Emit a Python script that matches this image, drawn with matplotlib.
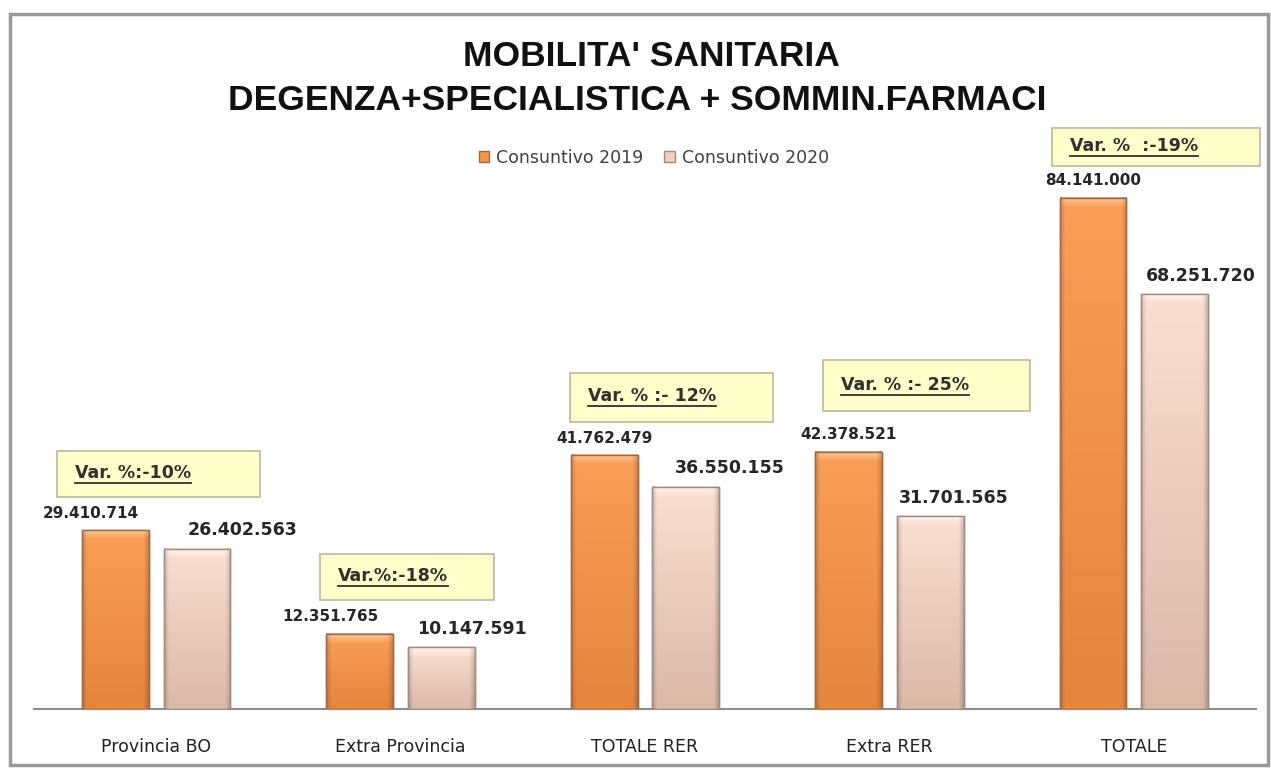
import matplotlib
matplotlib.use("Agg")
import matplotlib.pyplot as plt
import matplotlib.patches as patches
import numpy as np
from matplotlib.colors import to_rgb

categories = ["Provincia BO", "Extra Provincia", "TOTALE RER", "Extra RER", "TOTALE"]
cons_2019 = [29410714, 12351765, 41762479, 42378521, 84141000]
cons_2020 = [26402563, 10147591, 36550155, 31701565, 68251720]
labels_2019 = ["29.410.714", "12.351.765", "41.762.479", "42.378.521", "84.141.000"]
labels_2020 = ["26.402.563", "10.147.591", "36.550.155", "31.701.565", "68.251.720"]
var_labels = ["Var. %:-10%", "Var.%:-18%", "Var. % :- 12%", "Var. % :- 25%", "Var. %  :-19%"]
series_names = ["Consuntivo 2019", "Consuntivo 2020"]

W, H = 1271, 769
fig = plt.figure(figsize=(W / 100, H / 100), dpi=100)
fig.patch.set_facecolor("white")

def px(x, y):
    # pixel (from top-left) -> figure fraction
    return x / W, 1 - y / H

# outer frame
fig.add_artist(patches.Rectangle(px(10, 765), 1258 / W, 751 / H, transform=fig.transFigure,
                                 facecolor="none", edgecolor="#9a9a9a", lw=2.5))

ax = fig.add_axes([34 / W, 60 / H, 1222 / W, 579 / H])
for s in ["top", "right", "left"]:
    ax.spines[s].set_visible(False)
ax.spines["bottom"].set_color("#8c8c8c")
ax.spines["bottom"].set_linewidth(1.5)
ax.set_yticks([])
x = np.arange(len(categories))
ax.set_xticks(x)
ax.set_xticklabels(categories, fontsize=12.5, color="#202020", family="DejaVu Sans")
ax.tick_params(axis="x", length=0, pad=21)

ymax = 95.3e6
bw = 0.273
off = 0.167
b1 = ax.bar(x - off, cons_2019, bw, color="#F7964A", edgecolor="#9b6a4a", lw=1,
            label=series_names[0], zorder=2)
b2 = ax.bar(x + off, cons_2020, bw, color="#F2D0BE", edgecolor="#9f8a80", lw=1,
            label=series_names[1], zorder=2)

def bar_image(top, bottom, n=200, m=64):
    t = np.array(to_rgb(top)); b = np.array(to_rgb(bottom))
    v = np.linspace(0, 1, n)[:, None, None]
    img = t * (1 - v) + b * v
    img = np.repeat(img, m, axis=1)
    hx = np.linspace(-1, 1, m)
    shade = 1 - 0.18 * np.clip((np.abs(hx) - 0.85) / 0.15, 0, 1)
    return np.clip(img * shade[None, :, None], 0, 1)

styles = [(b1, "#FA9F58", "#E5853F", "#FCC690"), (b2, "#FADFD0", "#DCB8A7", "#FFF3EC")]
bevel = 9 * ymax / 579
for bars, top, bottom, light in styles:
    img = bar_image(top, bottom)
    for p in bars:
        x0, w, h = p.get_x(), p.get_width(), p.get_height()
        ax.imshow(img, aspect="auto", extent=[x0, x0 + w, 0, h], zorder=3)
        ax.imshow(bar_image(light, top, 20), aspect="auto",
                  extent=[x0, x0 + w, h - bevel, h], zorder=3.5)
        ax.add_patch(patches.FancyBboxPatch((x0, 0), w, h, boxstyle="square,pad=0",
                                            facecolor="none", edgecolor=p.get_edgecolor(),
                                            lw=1, zorder=4))
ax.set_xlim(-0.5, 4.5)
ax.set_ylim(0, ymax)

# value labels
off_2019 = [-18, -21, 0, 0, 0]
off_2020 = [33, 22, 32, 17, 19]
for i in range(len(categories)):
    ax.annotate(labels_2019[i], (x[i] - off, cons_2019[i]), xytext=(off_2019[i], 7),
                textcoords="offset points", ha="center", va="bottom", fontsize=11,
                fontweight="bold", family="DejaVu Sans", color="#262626", zorder=5)
    ax.annotate(labels_2020[i], (x[i] + off, cons_2020[i]), xytext=(off_2020[i], 7),
                textcoords="offset points", ha="center", va="bottom", fontsize=12.5,
                fontweight="bold", family="DejaVu Sans", color="#262626", zorder=5)

# variation boxes (pixel positions)
boxes = [(57, 451, 260, 497), (320, 554, 494, 600), (570, 373, 773, 422),
         (823, 360, 1030, 411), (1052, 128, 1260, 166)]
texts = []
for (bx0, by0, bx1, by1), lab in zip(boxes, var_labels):
    fig.add_artist(patches.Rectangle(px(bx0, by1), (bx1 - bx0) / W, (by1 - by0) / H,
                                     transform=fig.transFigure, facecolor="#FFFFC9",
                                     edgecolor="#b9b9a0", lw=1.2, zorder=6))
    tx, ty = px(bx0 + 18, (by0 + by1) / 2 - 1)
    t = fig.text(tx, ty, lab, fontsize=12.5, fontweight="bold", family="DejaVu Sans",
                 color="#303030", ha="left", va="center", zorder=7)
    texts.append(t)

fig.canvas.draw()
r = fig.canvas.get_renderer()
for t in texts:
    bb = t.get_window_extent(r)
    fig.add_artist(plt.Line2D([bb.x0 / W, bb.x1 / W], [(bb.y0 - 1) / H, (bb.y0 - 1) / H],
                              transform=fig.transFigure, color="#303030", lw=1.3, zorder=7))

# title
fig.text(*px(651, 56), "MOBILITA' SANITARIA", ha="center", va="center", fontsize=25.5,
         fontweight="bold", family="Liberation Sans", color="#111111")
fig.text(*px(637, 100), "DEGENZA+SPECIALISTICA + SOMMIN.FARMACI", ha="center", va="center",
         fontsize=25.5, fontweight="bold", family="Liberation Sans", color="#111111")

# legend
leg = fig.legend(handles=[b1, b2], labels=series_names, loc="center", bbox_to_anchor=px(654, 158),
                 ncol=2, frameon=False, fontsize=12.5, handlelength=0.6, handleheight=0.6,
                 handletextpad=0.4, columnspacing=1.2, labelcolor="#404040")

fig.savefig("out.png", dpi=100)
